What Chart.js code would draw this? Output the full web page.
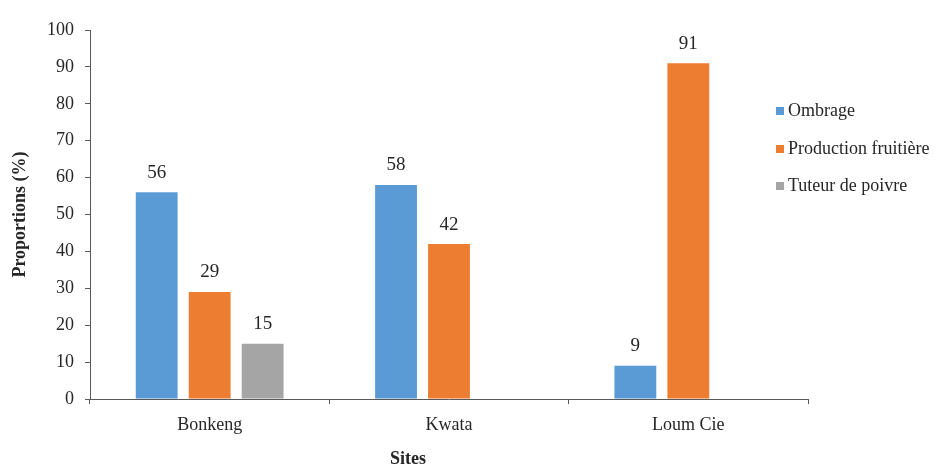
<!DOCTYPE html>
<html>
<head>
<meta charset="utf-8">
<script src="https://cdn.jsdelivr.net/npm/chart.js@4.4.1/dist/chart.umd.min.js"></script>
<style>
  html, body { margin: 0; padding: 0; background: #fff; }
  #wrap { width: 941px; height: 474px; }
</style>
</head>
<body>
<div id="wrap"><canvas id="chart"></canvas></div>
<script>
const sites = ['Bonkeng', 'Kwata', 'Loum Cie'];
const seriesNames = ['Ombrage', 'Production fruitière', 'Tuteur de poivre'];
const ombrage = [56, 58, 9];
const production = [29, 42, 91];
const tuteur = [15, null, null];
const yTicks = [0, 10, 20, 30, 40, 50, 60, 70, 80, 90, 100];
const colors = ['#5B9BD5', '#ED7D31', '#A5A5A5'];

const FONT = "'Liberation Serif', 'Times New Roman', serif";
const TEXT = '#262626';
const AXIS = '#595959';

// value labels above bars + legend + x title
const extras = {
  id: 'extras',
  afterDatasetsDraw(chart) {
    const ctx = chart.ctx;
    ctx.save();
    ctx.font = '19px ' + FONT;
    ctx.fillStyle = TEXT;
    ctx.textAlign = 'center';
    ctx.textBaseline = 'bottom';
    chart.data.datasets.forEach((ds, i) => {
      const meta = chart.getDatasetMeta(i);
      meta.data.forEach((bar, j) => {
        const v = ds.data[j];
        if (v === null || v === undefined) return;
        ctx.fillText(String(v), bar.x, bar.y - 10);
      });
    });

    // legend
    const area = chart.chartArea;
    const lx = area.right - 32;
    const ys = [111, 149, 186];
    ctx.textAlign = 'left';
    ctx.textBaseline = 'middle';
    ctx.font = '18px ' + FONT;
    chart.data.datasets.forEach((ds, i) => {
      ctx.fillStyle = ds.backgroundColor;
      ctx.fillRect(lx, ys[i] - 4, 8, 8);
      ctx.fillStyle = TEXT;
      ctx.fillText(ds.label, lx + 12, ys[i]);
    });

    // x title
    ctx.font = 'bold 18px ' + FONT;
    ctx.textAlign = 'center';
    ctx.fillText('Sites', area.right / 2 + 4, 459);
    ctx.restore();
  }
};

new Chart(document.getElementById('chart'), {
  type: 'bar',
  data: {
    labels: sites,
    datasets: [
      { label: seriesNames[0], data: ombrage, backgroundColor: colors[0] },
      { label: seriesNames[1], data: production, backgroundColor: colors[1] },
      { label: seriesNames[2], data: tuteur, backgroundColor: colors[2] }
    ]
  },
  options: {
    responsive: true,
    maintainAspectRatio: false,
    animation: false,
    categoryPercentage: 0.664,
    barPercentage: 0.79,
    layout: { padding: { top: 30, right: 133, bottom: 0, left: 0 } },
    plugins: {
      legend: { display: false },
      tooltip: { enabled: false }
    },
    scales: {
      x: {
        afterFit(scale) { scale.height = 75; },
        grid: { drawOnChartArea: false, drawTicks: true, tickLength: 5, color: AXIS },
        border: { color: AXIS, width: 1 },
        ticks: { color: TEXT, font: { family: FONT, size: 18 }, padding: 10 }
      },
      y: {
        min: 0,
        max: 100,
        afterFit(scale) { scale.width = 90; },
        afterBuildTicks(scale) { scale.ticks = yTicks.map(v => ({ value: v })); },
        grid: { drawOnChartArea: false, drawTicks: true, tickLength: 5, color: AXIS },
        border: { color: AXIS, width: 1 },
        ticks: { color: TEXT, font: { family: FONT, size: 18 }, padding: 11 },
        title: {
          display: true,
          text: 'Proportions (%)',
          color: TEXT,
          font: { family: FONT, size: 18, weight: 'bold' },
          padding: { top: 10, bottom: 0 }
        }
      }
    }
  },
  plugins: [extras]
});
</script>
</body>
</html>
